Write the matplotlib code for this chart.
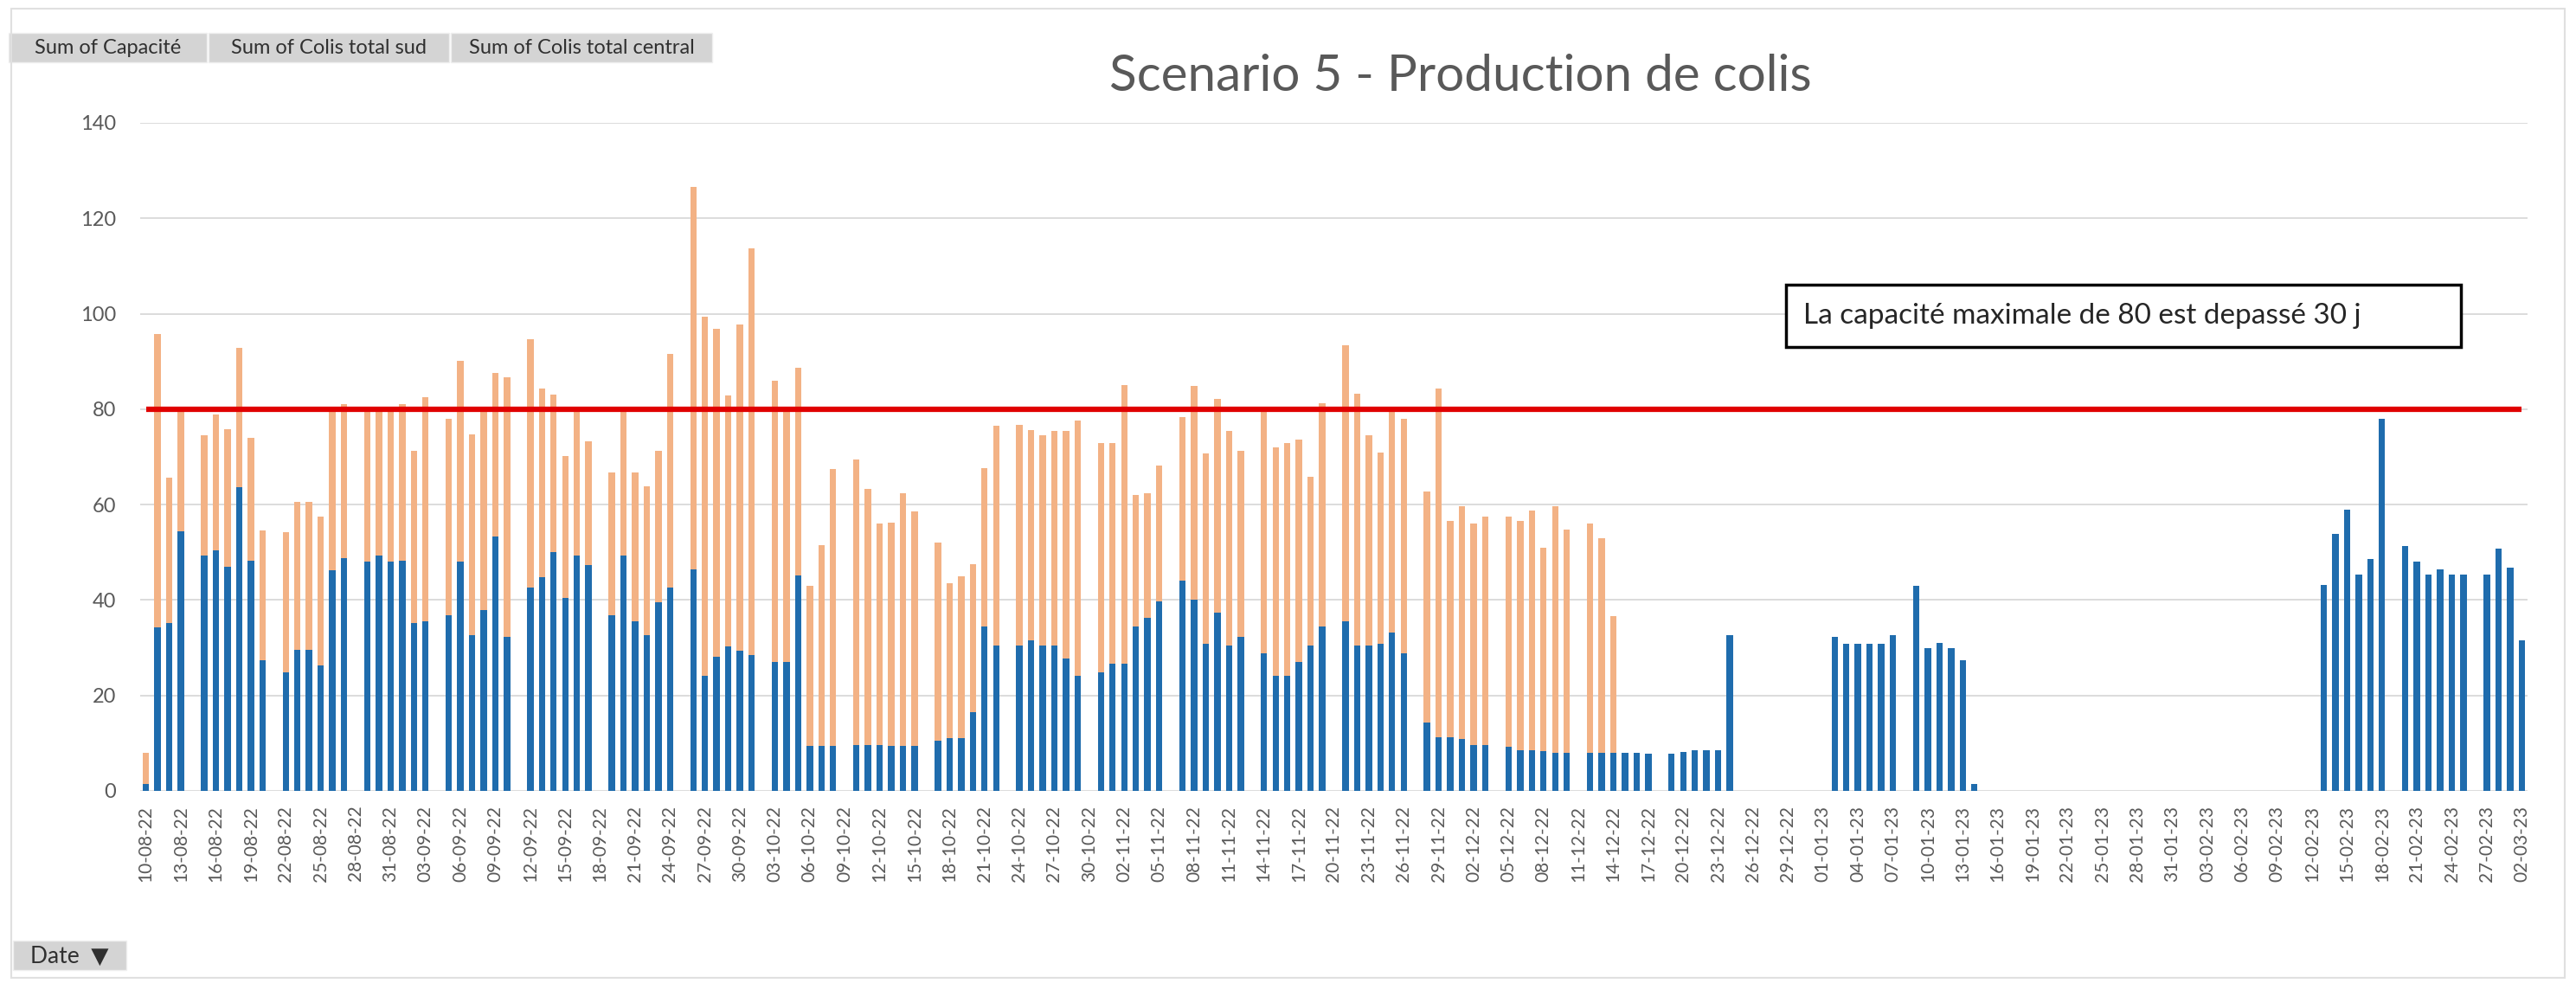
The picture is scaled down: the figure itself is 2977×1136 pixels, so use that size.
import numpy as np
import pandas as pd
import matplotlib
matplotlib.use("Agg")
import matplotlib.pyplot as plt
from matplotlib.patches import Rectangle

plt.rcParams['font.family'] = ['Lato', 'DejaVu Sans']

# daily categories, 10-08-22 .. 02-03-23
dates = pd.date_range('2022-08-10', '2023-03-02', freq='D')
capacite = 80

# Sum of Colis total sud (blue, bottom of the stack)
sud_aug = [1.5, 34.2, 35.2, 54.4, 0, 49.4, 50.5, 46.9, 63.6, 48.3, 27.3, 0,
           24.9, 29.5, 29.5, 26.3, 46.2, 48.7, 0, 48.0, 49.4, 48.0]
sud_sep = [48.3, 35.2, 35.5, 0, 36.9, 48.0, 32.6, 37.9, 53.3, 32.3,
           0, 42.7, 44.8, 50.1, 40.5, 49.4, 47.3, 0, 36.9, 49.4,
           35.5, 32.6, 39.5, 42.7, 0, 46.5, 24.1, 28.1, 30.2, 29.4]
sud_oct = [28.4, 0, 27.0, 27.0, 45.1, 9.4, 9.4, 9.4, 0, 9.6,
           9.6, 9.6, 9.4, 9.4, 9.4, 0, 10.5, 11.0, 11.0, 16.5,
           34.5, 30.5, 0, 30.5, 31.6, 30.5, 30.5, 27.7, 24.1, 0, 24.9]
sud_nov = [26.7, 26.7, 34.5, 36.3, 39.8, 0, 44.1, 40.1, 30.9, 37.3,
           30.5, 32.3, 0, 28.8, 24.1, 24.1, 27.0, 30.5, 34.5, 0,
           35.5, 30.5, 30.5, 30.9, 33.1, 28.8, 0, 14.4, 11.2, 11.2]
sud_dec = [10.8, 9.7, 9.7, 0, 9.2, 8.6, 8.6, 8.3, 8.0, 8.0,
           0, 8.0, 8.0, 8.0, 8.0, 8.0, 7.8, 0, 7.8, 8.1,
           8.5, 8.5, 8.5, 32.6, 0, 0, 0, 0, 0, 0, 0]
sud_jan = [0, 32.3, 30.9, 30.9, 30.9, 30.9, 32.6, 0, 43.0, 29.9,
           31.0, 30.0, 27.3, 1.4] + [0] * 17
sud_feb = [0] * 12 + [43.2, 53.9, 59.0, 45.3, 48.6, 77.9, 0, 51.3,
                      48.1, 45.3, 46.4, 45.3, 45.3, 0, 45.3, 50.7]
sud_mar = [46.7, 31.6]

# Sum of Colis total central (orange, stacked on top)
central_aug = [6.5, 61.6, 30.4, 25.6, 0, 25.1, 28.4, 28.9, 29.3, 25.6, 27.2, 0,
               29.3, 31.1, 31.1, 31.1, 33.8, 32.4, 0, 32.0, 30.6, 32.0]
central_sep = [32.8, 36.1, 47.0, 0, 41.1, 42.1, 42.2, 41.6, 34.3, 54.4,
               0, 52.0, 39.6, 32.9, 29.7, 30.1, 25.9, 0, 29.8, 30.1,
               31.2, 31.2, 31.8, 48.8, 0, 80.0, 75.2, 68.8, 52.6, 68.3]
central_oct = [85.3, 0, 59.0, 53.0, 43.5, 33.6, 42.1, 58.1, 0, 59.8,
               53.7, 46.4, 46.9, 53.0, 49.1, 0, 41.6, 32.5, 33.9, 31.0,
               33.2, 46.1, 0, 46.3, 44.1, 44.0, 45.0, 47.8, 53.6, 0, 48.0]
central_nov = [46.2, 58.4, 27.5, 26.1, 28.3, 0, 34.3, 44.7, 39.8, 44.9,
               45.0, 39.0, 0, 51.2, 47.9, 48.8, 46.7, 35.4, 46.7, 0,
               57.9, 52.8, 44.0, 40.0, 46.9, 49.2, 0, 48.3, 73.2, 45.4]
central_dec = [48.9, 46.3, 47.7, 0, 48.2, 47.9, 50.1, 42.7, 51.7, 46.7,
               0, 48.0, 44.9, 28.6] + [0] * 17
central_jan = [0] * 31
central_feb = [0] * 28
central_mar = [0, 0]

sud = np.array(sud_aug + sud_sep + sud_oct + sud_nov + sud_dec + sud_jan + sud_feb + sud_mar)
central = np.array(central_aug + central_sep + central_oct + central_nov + central_dec
                   + central_jan + central_feb + central_mar)

buttons = ["Sum of Capacité", "Sum of Colis total sud", "Sum of Colis total central"]
title = "Scenario 5 - Production de colis"
note = "La capacité maximale de 80 est depassé 30 j"

W, H = 2977, 1136
fig = plt.figure(figsize=(W / 100, H / 100), dpi=100)
ax = fig.add_axes([162 / W, 1 - 914 / H, (2921 - 162) / W, (914 - 142) / H])

x = np.arange(len(dates))
ax.bar(x, sud, width=0.55, color='#1F6CAD', zorder=2)
ax.bar(x, central, bottom=sud, width=0.55, color='#F3B285', zorder=2)
ax.plot(x, [capacite] * len(x), color='#E00000', lw=4.5, solid_capstyle='butt', zorder=3)

ax.set_xlim(-0.5, len(x) - 0.5)
ax.set_ylim(0, 140)
ax.set_yticks(range(0, 141, 20))
ax.yaxis.grid(True, color='#D9D9D9', lw=1.3, zorder=0)
ax.set_axisbelow(True)
for s in ax.spines.values():
    s.set_visible(False)
ax.set_xticks(x[::3])
ax.set_xticklabels([d.strftime('%d-%m-%y') for d in dates[::3]], rotation=90)
ax.tick_params(axis='x', length=0, pad=12, labelsize=15, labelcolor='#595959')
ax.tick_params(axis='y', length=0, pad=20, labelsize=17, labelcolor='#595959')

fig.text(0.567, 0.922, title, ha='center', va='center', fontsize=42, color='#595959')

# note box
fig.add_artist(Rectangle((2064 / W, 1 - 401 / H), 780 / W, 72 / H, transform=fig.transFigure,
                         facecolor='white', edgecolor='black', lw=2.5))
fig.text(2084 / W, 1 - 365 / H, note, ha='left', va='center', fontsize=24, color='#262626')

# pivot field buttons
bx = [(10, 239), (241, 519), (521, 823)]
for (x0, x1), lab in zip(bx, buttons):
    fig.add_artist(Rectangle((x0 / W, 1 - 72 / H), (x1 - x0) / W, 34 / H, transform=fig.transFigure,
                             facecolor='#D4D4D4', edgecolor='#EFEFEF', lw=1))
    fig.text((x0 + x1) / 2 / W, 1 - 56 / H, lab, ha='center', va='center', fontsize=17, color='#303030')

fig.add_artist(Rectangle((15 / W, 1 - 1121 / H), 131 / W, 34 / H, transform=fig.transFigure,
                         facecolor='#D4D4D4', edgecolor='#EFEFEF', lw=1))
fig.text(80 / W, 1 - 1105 / H, "Date  \u25bc", ha='center', va='center', fontsize=19, color='#303030')

# chart area border
fig.add_artist(Rectangle((13 / W, 6 / H), (W - 26) / W, (H - 16) / H, transform=fig.transFigure,
                         facecolor='none', edgecolor='#E0E0E0', lw=1.5))

fig.savefig('out.png', dpi=100, facecolor='white')
